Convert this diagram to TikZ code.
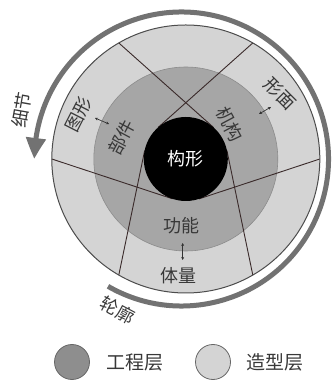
\documentclass[tikz,border=0pt]{standalone}
\usepackage{fontspec}
\newfontfamily\cjk{Noto Sans CJK SC}
\usetikzlibrary{arrows.meta,bending}
\definecolor{outerfill}{HTML}{D4D4D4}
\definecolor{midfill}{HTML}{A6A6A6}
\definecolor{legdark}{HTML}{8E8E8E}
\definecolor{arcgray}{HTML}{727272}
\definecolor{linecol}{HTML}{3A2A2A}
\definecolor{txt}{HTML}{383838}
\tikzset{
  secline/.style={draw=linecol, line width=0.9pt},
  lab/.style={font=\cjk\fontsize{18}{18}\selectfont, text=txt, inner sep=0pt},
  dblarrow/.style={draw=black!80, line width=0.7pt, {Stealth[length=3pt,width=3pt]}-{Stealth[length=3pt,width=3pt]}},
  legcircle/.style={circle, minimum size=35pt, inner sep=0pt, draw=black!60, line width=0.8pt},
}
\begin{document}
\begin{tikzpicture}[x=1pt,y=1pt]
\useasboundingbox (0,0) rectangle (336,382);
\coordinate (C) at (185.8,223);
\coordinate (Carc) at (181.5,223);
% rings
\fill[outerfill] (C) circle[radius=134];
\fill[midfill] (C) circle[radius=92];
\draw[black!45, line width=0.6pt] (C) circle[radius=92];
% sector lines (tangent to inner circle)
\foreach \t in {0,120,240}
  \draw[secline] ([shift={(\t:134)}]C) -- ([shift={(\t-71.6:42)}]C);
\foreach \t in {60,180,300}
  \draw[secline] ([shift={(\t:134)}]C) -- ([shift={(\t+71.6:42)}]C);
\draw[black!70, line width=1pt] (C) circle[radius=134];
% core
\fill[black] (C) circle[radius=42];
\node[lab, text=white] (core) at (C) {构形};
% outer arrow arc
\draw[arcgray, line width=5pt, -{Triangle[length=21pt,width=19pt,bend]}]
  ([shift={(-120:147)}]Carc) arc[start angle=-120, end angle=180, radius=147];
% labels
\node[lab, rotate=80] (xijie) at (22,272) {细节};
\node[lab, rotate=63] (tuxing) at (79,268) {图形};
\node[lab, rotate=62] (bujian) at (121.5,244.5) {部件};
\node[lab, rotate=-45] (xingmian) at (280,288) {形面};
\node[lab, rotate=-62] (jigou) at (230,258) {机构};
\node[lab] (gongneng) at (181,156) {功能};
\node[lab] (tiliang) at (178,106) {体量};
\node[lab, rotate=-28] (lunkuo) at (117.5,72) {轮廓};
% small double arrows
\coordinate (a1s) at (95,264); \coordinate (a1e) at (109,258);
\coordinate (a2s) at (259,268); \coordinate (a2e) at (271,275);
\coordinate (a3s) at (182.7,139); \coordinate (a3e) at (182.7,122);
\draw[dblarrow] (a1s) -- (a1e);
\draw[dblarrow] (a2s) -- (a2e);
\draw[dblarrow] (a3s) -- (a3e);
% legend
\node[legcircle, fill=legdark] (leg1) at (72,20) {};
\node[lab, font=\cjk\fontsize{19}{19}\selectfont] (leg1t) at (135,20) {工程层};
\node[legcircle, fill=outerfill] (leg2) at (213,20) {};
\node[lab, font=\cjk\fontsize{19}{19}\selectfont] (leg2t) at (275,20) {造型层};
\end{tikzpicture}
\end{document}
